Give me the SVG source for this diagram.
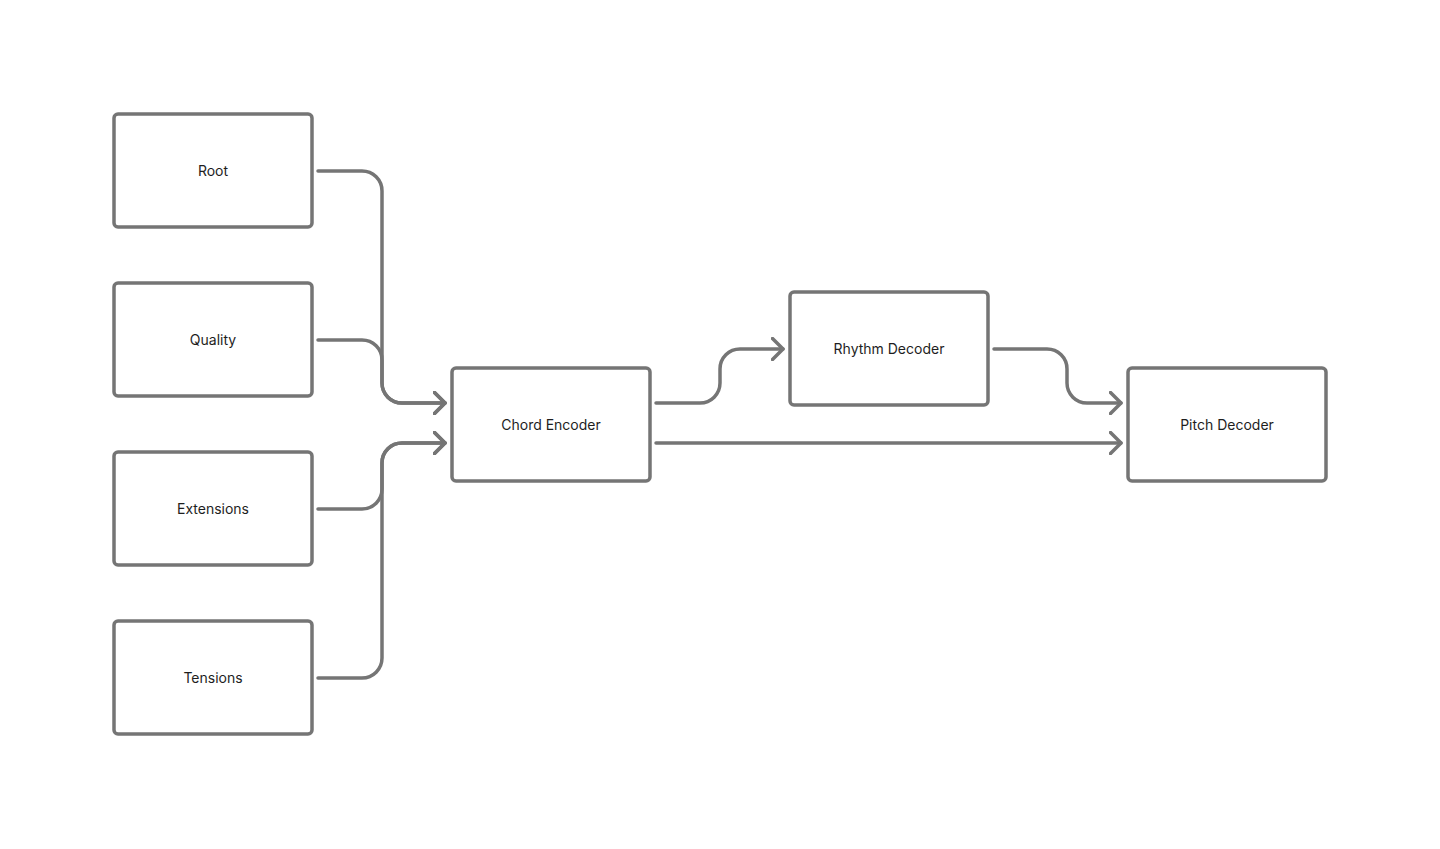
<svg xmlns="http://www.w3.org/2000/svg" width="1440" height="849" viewBox="0 0 1440 849">
<style>
.box{fill:#fff;stroke:#757575;stroke-width:3.5}
.lbl{font-family:Inter,"Liberation Sans",sans-serif;font-size:14px;fill:#1e1e1e;text-anchor:middle;dominant-baseline:central}
.c{fill:none;stroke:#757575;stroke-width:3.5;stroke-linecap:round;stroke-linejoin:round}
</style>
<defs>
<marker id="ah" viewBox="0 0 14 24" refX="12" refY="12" markerWidth="14" markerHeight="24" markerUnits="userSpaceOnUse" orient="auto">
<path d="M1.5 1.5 L12 12 L1.5 22.5" fill="none" stroke="#757575" stroke-width="3.5" stroke-linecap="round" stroke-linejoin="round"/>
</marker>
</defs>
<rect width="1440" height="849" fill="#fff"/>
<g id="root"><rect class="box" x="114" y="114" width="198" height="113" rx="4"/><text class="lbl" x="213" y="170.5">Root</text></g>
<g id="quality"><rect class="box" x="114" y="283" width="198" height="113" rx="4"/><text class="lbl" x="213" y="339.5">Quality</text></g>
<g id="extensions"><rect class="box" x="114" y="452" width="198" height="113" rx="4"/><text class="lbl" x="213" y="508.5">Extensions</text></g>
<g id="tensions"><rect class="box" x="114" y="621" width="198" height="113" rx="4"/><text class="lbl" x="213" y="677.5">Tensions</text></g>
<g id="chord-encoder"><rect class="box" x="452" y="368" width="198" height="113" rx="4"/><text class="lbl" x="551" y="424.5">Chord Encoder</text></g>
<g id="rhythm-decoder"><rect class="box" x="790" y="292" width="198" height="113" rx="4"/><text class="lbl" x="889" y="348.5">Rhythm Decoder</text></g>
<g id="pitch-decoder"><rect class="box" x="1128" y="368" width="198" height="113" rx="4"/><text class="lbl" x="1227" y="424.5">Pitch Decoder</text></g>
<g id="connectors">
<path class="c" d="M318 171 H362 A20 20 0 0 1 382 191 V383 A20 20 0 0 0 402 403 H445" marker-end="url(#ah)"/>
<path class="c" d="M318 340 H362 A20 20 0 0 1 382 360 V383 A20 20 0 0 0 402 403 H445" marker-end="url(#ah)"/>
<path class="c" d="M318 509 H362 A20 20 0 0 0 382 489 V463 A20 20 0 0 1 402 443 H445" marker-end="url(#ah)"/>
<path class="c" d="M318 678 H362 A20 20 0 0 0 382 658 V463 A20 20 0 0 1 402 443 H445" marker-end="url(#ah)"/>
<path class="c" d="M656 403 H700 A20 20 0 0 0 720 383 V369 A20 20 0 0 1 740 349 H783" marker-end="url(#ah)"/>
<path class="c" d="M994 349 H1047 A20 20 0 0 1 1067 369 V383 A20 20 0 0 0 1087 403 H1121" marker-end="url(#ah)"/>
<path class="c" d="M656 443 H1121" marker-end="url(#ah)"/>
</g>
</svg>
